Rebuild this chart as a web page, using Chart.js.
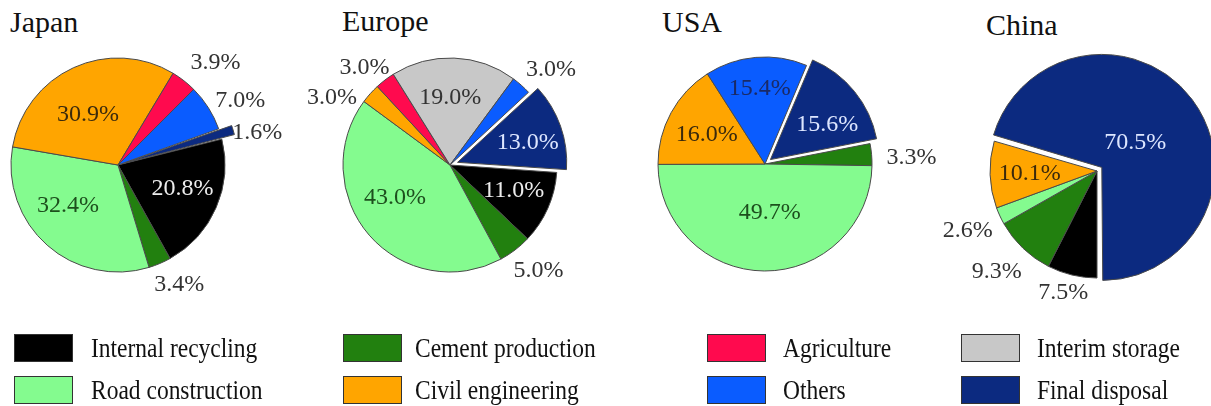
<!DOCTYPE html>
<html><head><meta charset="utf-8">
<script src="https://cdn.jsdelivr.net/npm/chart.js@4"></script>
<style>
body{margin:0;width:1211px;height:406px;overflow:hidden;background:#fff;position:relative;font-family:"Liberation Serif","Times New Roman",serif;}
.t{position:absolute;font-size:30px;color:#111;line-height:1;white-space:nowrap}
canvas.c{position:absolute}
.lt{position:absolute;font-size:27px;color:#111;line-height:1;white-space:nowrap;transform:scaleX(0.87);transform-origin:0 0}
.box{position:absolute;border:1px solid #333;box-sizing:border-box;width:59px;height:28px}
</style></head><body>
<script>
// ---- data ----
const categories = ["Internal recycling","Cement production","Road construction","Civil engineering","Agriculture","Interim storage","Others","Final disposal"];
const regions = ["Japan","Europe","USA","China"];
const japanValues  = [20.8, 3.4, 32.4, 30.9, 3.9, 0,    7.0,  1.6];
const europeValues = [11.0, 5.0, 43.0, 3.0,  3.0, 19.0, 3.0,  13.0];
const usaValues    = [0,    3.3, 49.7, 16.0, 0,   0,    15.4, 15.6];
const chinaValues  = [7.5,  9.3, 2.6,  10.1, 0,   0,    0,    70.5];
const legendColumns = [["Internal recycling","Road construction"],["Cement production","Civil engineering"],["Agriculture","Others"],["Interim storage","Final disposal"]];

// ---- styles ----
const colors = ["#000000","#22800f","#84fb8f","#ffa500","#ff0a4e","#c8c8c8","#0a5cff","#0c2a80"];
const insideText = ["#ececec","#e0f0e0","#1d4f1d","#3b2a0c","#fff","#333333","#1a2a66","#dde6ff"];
const outsideText = "#333333";

// offsets are in Chart.js units (drawn shift = offset/4 px)
const pieSpecs = [
  {values: japanValues, cx:118, cy:165, rot:76, off:[0,0,0,0,0,0,0,28],
   factor:[0.64,1.26,0.6,0.55,1.32,0,1.29,1.27], shift:[-3.6,-4,9.6,-6,5.6,0,4.7,4],
   title:{x:10, base:32}},
  {values: europeValues, cx:450, cy:165, rot:94, off:[0,0,0,0,0,0,0,32],
   factor:[0.64,1.29,0.6,1.27,1.21,0.63,1.3,0.68], shift:[-2,-2.5,10,-12,-4,-2,4.7,3.4],
   title:{x:342, base:31}},
  {values: usaValues, cx:765, cy:164, rot:79, off:[0,0,0,0,0,0,0,28],
   factor:[0,1.37,0.46,0.61,0,0,0.71,0.62], shift:[0,2.7,-6,-2,0,0,1,7],
   title:{x:662, base:32}},
  {values: chinaValues, cx:1097, cy:171, rot:180, off:[0,0,0,0,0,0,0,24],
   factor:[1.18,1.33,1.33,0.63,0,0,0,0.39], shift:[2,1,0,0,0,0,0,0],
   title:{x:986, base:35}}
];

const labelPlugin = {
  id:'pctLabels',
  afterDatasetsDraw(chart, args, opts){
    const ctx = chart.ctx;
    const meta = chart.getDatasetMeta(0);
    const ds = chart.data.datasets[0];
    ctx.save();
    ctx.font = '24px "Liberation Serif", serif';
    ctx.textAlign = 'center';
    ctx.textBaseline = 'middle';
    meta.data.forEach((arc,i)=>{
      const v = ds.data[i];
      if(!v) return;
      const p = arc.getProps(['x','y','startAngle','endAngle','outerRadius'], true);
      const off = (arc.options.offset || 0) / 4;
      const mid = (p.startAngle+p.endAngle)/2 + (opts.shift[i]||0)*Math.PI/180;
      const f = opts.factor[i];
      const d = off + f*p.outerRadius;
      ctx.fillStyle = f > 1 ? outsideText : insideText[i];
      ctx.fillText(v.toFixed(1)+'%', p.x+Math.cos(mid)*d, p.y+Math.sin(mid)*d);
    });
    ctx.restore();
  }
};

const W = 380, H = 340;
pieSpecs.forEach((s,k)=>{
  const t = document.createElement('div');
  t.className = 't';
  t.textContent = regions[k];
  t.style.left = s.title.x + 'px';
  t.style.top = (s.title.base - 25) + 'px';
  document.body.appendChild(t);

  const cv = document.createElement('canvas');
  cv.className = 'c';
  cv.width = W; cv.height = H;
  cv.style.left = (s.cx - W/2) + 'px';
  cv.style.top = (s.cy - H/2) + 'px';
  document.body.appendChild(cv);

  new Chart(cv, {
    type:'pie',
    data:{labels:categories, datasets:[{
      data:s.values,
      backgroundColor:colors,
      borderColor:'#4a4a4a',
      borderWidth:(c)=> c.raw ? 1 : 0,
      offset:s.off,
      hoverOffset:0
    }]},
    options:{
      responsive:false, animation:false, devicePixelRatio:1,
      radius:107, rotation:s.rot,
      layout:{padding:0},
      events:[],
      plugins:{legend:{display:false}, tooltip:{enabled:false}, title:{display:false},
        pctLabels:{factor:s.factor, shift:s.shift}}
    },
    plugins:[labelPlugin]
  });
});

// ---- legend (HTML) ----
const colX = [14, 343, 707, 961];
const textX = [91, 415, 783, 1037];
const rowY = [334, 376];
legendColumns.forEach((col,ci)=>{
  col.forEach((name,ri)=>{
    const b = document.createElement('div');
    b.className = 'box';
    b.style.left = colX[ci]+'px';
    b.style.top = rowY[ri]+'px';
    b.style.background = colors[categories.indexOf(name)];
    document.body.appendChild(b);
    const l = document.createElement('div');
    l.className = 'lt';
    l.textContent = name;
    l.style.left = textX[ci]+'px';
    l.style.top = (rowY[ri] + 1) + 'px';
    document.body.appendChild(l);
  });
});
</script>
</body></html>
